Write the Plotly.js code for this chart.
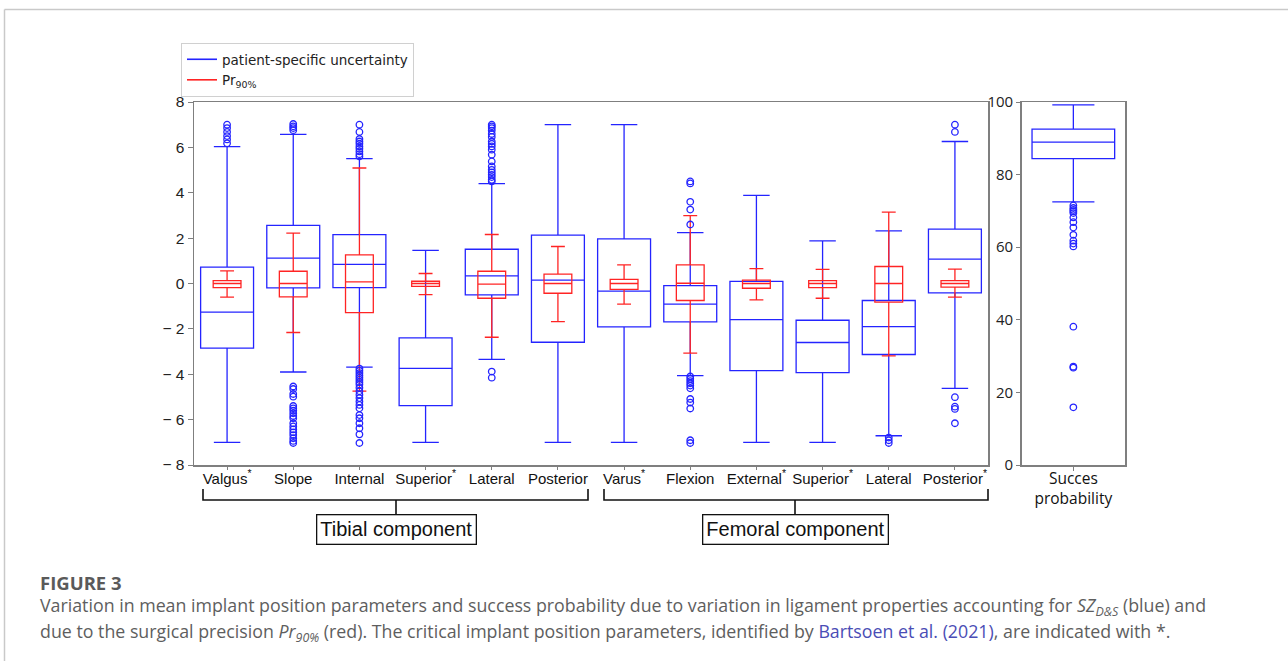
<!DOCTYPE html>
<html>
<head>
<meta charset="utf-8">
<script src="https://cdn.plot.ly/plotly-3.0.1.min.js"></script>
<style>
html,body{margin:0;padding:0;background:#fff;}
#chart{width:1288px;height:661px;}
</style>
</head>
<body>
<div id="chart"></div>
<script>
// ---------------- DATA ----------------
const categories = ["Valgus<sup>*</sup>","Slope","Internal","Superior<sup>*</sup>","Lateral","Posterior",
                    "Varus<sup>*</sup>","Flexion","External<sup>*</sup>","Superior<sup>*</sup>","Lateral","Posterior<sup>*</sup>"];
const positions = [0,1,2,3,4,5,6,7,8,9,10,11];

// patient-specific uncertainty (blue)
const blueQ1     = [-2.85,-0.19,-0.18,-5.38,-0.50,-2.59,-1.91,-1.69,-3.84,-3.93,-3.13,-0.41];
const blueMedian = [-1.26, 1.12, 0.84,-3.74, 0.34, 0.15,-0.34,-0.91,-1.59,-2.60,-1.90, 1.07];
const blueQ3     = [ 0.72, 2.56, 2.15,-2.40, 1.51, 2.13, 1.97,-0.09, 0.09,-1.62,-0.75, 2.40];
const blueLow    = [-7.00,-3.90,-3.69,-7.00,-3.34,-7.00,-7.00,-4.06,-7.00,-7.00,-6.71,-4.62];
const blueHigh   = [ 6.03, 6.57, 5.50, 1.46, 4.40, 7.00, 7.00, 2.24, 3.88, 1.88, 2.32, 6.26];

// surgical precision Pr90% (red)
const redQ1     = [-0.18,-0.59,-1.28,-0.13,-0.65,-0.43,-0.26,-0.75,-0.21,-0.18,-0.82,-0.16];
const redMedian = [ 0.00, 0.00, 0.07, 0.00,-0.03, 0.00, 0.00, 0.01, 0.00, 0.00, 0.00, 0.00];
const redQ3     = [ 0.13, 0.54, 1.26, 0.10, 0.54, 0.41, 0.18, 0.82, 0.15, 0.13, 0.75, 0.13];
const redLow    = [-0.60,-2.16,-4.74,-0.49,-2.37,-1.68,-0.91,-3.07,-0.72,-0.65,-3.19,-0.60];
const redHigh   = [ 0.56, 2.22, 5.09, 0.44, 2.16, 1.63, 0.82, 2.99, 0.66, 0.62, 3.15, 0.63];

// blue outliers, per category index
const outValgus    = [7.0,6.85,6.68,6.5,6.35,6.18];
const outSlope     = [7.03,6.93,6.85,6.76,-4.54,-4.65,-4.87,-4.99,-5.4,-5.5,-5.6,-5.72,-5.84,-5.94,-6.16,-6.3,-6.43,-6.56,-6.68,-6.82,-6.94,-7.03];
const outInternal  = [7.0,6.68,6.37,6.26,6.16,6.04,5.94,5.82,5.7,5.6,-3.75,-3.85,-3.95,-4.05,-4.15,-4.25,-4.35,-4.45,-4.6,-4.75,-4.9,-5.05,-5.2,-5.35,-5.5,-5.8,-5.94,-6.16,-6.38,-6.65,-7.03];
const outLateralT  = [7.0,6.93,6.85,6.74,6.59,6.46,6.26,6.15,6.04,5.9,5.68,5.38,5.16,5.01,4.9,4.79,4.69,4.57,4.5,-3.88,-4.15];
const outFlexion   = [4.5,4.41,3.6,3.26,2.6,-4.1,-4.2,-4.3,-4.4,-4.5,-4.62,-5.09,-5.25,-5.51,-6.91,-7.03];
const outLateralF  = [-6.79,-6.91,-7.03];
const outPosteriorF= [7.0,6.68,-5.01,-5.43,-5.53,-6.16];

// success probability
const succLabel = "Succes<br>probability";
const succQ1 = 84.4, succMedian = 88.97, succQ3 = 92.55, succLow = 72.5, succHigh = 99.2;
const succOutliers = [71.5,70.8,70.3,69.9,69.4,68.2,66.9,65.4,63.4,61.8,61.0,60.2,38.1,27.1,26.8,15.9];

const yTickVals = [-8,-6,-4,-2,0,2,4,6,8];
const yTickText = ["\u2212 8","\u2212 6","\u2212 4","\u2212 2","0","2","4","6","8"];
const y2TickVals = [0,20,40,60,80,100];

// ---------------- BUILD ----------------
const BLUE = "#2424ff", RED = "#ff2424";
const outlierSets = [[0,outValgus],[1,outSlope],[2,outInternal],[4,outLateralT],[7,outFlexion],[10,outLateralF],[11,outPosteriorF]];
const outX = [], outY = [];
outlierSets.forEach(([i,arr]) => arr.forEach(v => { outX.push(positions[i]); outY.push(v); }));

const W = 1288, H = 661;
const px = x => x / W;
const py = y => 1 - y / H;

const traces = [
  {type:"box", x:positions, q1:blueQ1, median:blueMedian, q3:blueQ3, lowerfence:blueLow, upperfence:blueHigh,
   width:0.8, whiskerwidth:0.5, line:{color:BLUE,width:1.3}, fillcolor:"rgba(0,0,0,0)",
   boxpoints:false, showlegend:false, xaxis:"x", yaxis:"y", hoverinfo:"skip"},
  {type:"box", x:positions, q1:redQ1, median:redMedian, q3:redQ3, lowerfence:redLow, upperfence:redHigh,
   width:0.42, whiskerwidth:0.5, line:{color:RED,width:1.3}, fillcolor:"rgba(0,0,0,0)",
   boxpoints:false, showlegend:false, xaxis:"x", yaxis:"y", hoverinfo:"skip"},
  {type:"scatter", mode:"markers", x:outX, y:outY, xaxis:"x", yaxis:"y",
   marker:{symbol:"circle-open", size:6.5, color:BLUE, line:{width:1.3, color:BLUE}}, showlegend:false, hoverinfo:"skip"},
  {type:"box", x:[0], q1:[succQ1], median:[succMedian], q3:[succQ3], lowerfence:[succLow], upperfence:[succHigh],
   width:0.8, whiskerwidth:0.51, line:{color:BLUE,width:1.3}, fillcolor:"rgba(0,0,0,0)",
   boxpoints:false, showlegend:false, xaxis:"x2", yaxis:"y2", hoverinfo:"skip"},
  {type:"scatter", mode:"markers", x:succOutliers.map(() => 0), y:succOutliers, xaxis:"x2", yaxis:"y2",
   marker:{symbol:"circle-open", size:6.5, color:BLUE, line:{width:1.3, color:BLUE}}, showlegend:false, hoverinfo:"skip"},
  {type:"scatter", mode:"lines", x:[null], y:[null], name:"patient-specific uncertainty", line:{color:BLUE,width:1.6}, xaxis:"x", yaxis:"y"},
  {type:"scatter", mode:"lines", x:[null], y:[null], name:"Pr<sub>90%</sub>", line:{color:RED,width:1.6}, xaxis:"x", yaxis:"y"}
];

const axisColor = "#7f7f7f";
const tickFont = {family:"Liberation Sans, Arial, sans-serif", size:15.5, color:"#222"};

const shapes = [];
// card border (top and left)
shapes.push({type:"line", xref:"paper", yref:"paper", x0:px(4.5), x1:px(1288), y0:py(9.5), y1:py(9.5), line:{color:"#c9c9c9", width:1.5}});
shapes.push({type:"line", xref:"paper", yref:"paper", x0:px(4.5), x1:px(4.5), y0:py(9.5), y1:py(661), line:{color:"#c9c9c9", width:1.5}});
// brackets
function bracket(xl, xr, xm) {
  shapes.push({type:"path", xref:"paper", yref:"paper",
    path:`M ${px(xl)} ${py(489)} L ${px(xl)} ${py(500)} L ${px(xr)} ${py(500)} L ${px(xr)} ${py(489)}`,
    line:{color:"#111", width:1.6}});
  shapes.push({type:"line", xref:"paper", yref:"paper", x0:px(xm), x1:px(xm), y0:py(500), y1:py(515), line:{color:"#111", width:1.6}});
}
bracket(203, 588, 396);
bracket(604, 988, 795);

const annFont = {family:"Liberation Sans, Arial, sans-serif", size:20, color:"#111"};
const capFont = {family:"Open Sans, sans-serif", size:17.8, color:"#5e5e5e"};
const annotations = [
  {xref:"paper", yref:"paper", x:px(396), y:py(529), text:"Tibial component", showarrow:false, font:annFont,
   bordercolor:"#111", borderwidth:1.3, borderpad:3, bgcolor:"#fff", xanchor:"center", yanchor:"middle"},
  {xref:"paper", yref:"paper", x:px(795), y:py(529), text:"Femoral component", showarrow:false, font:annFont,
   bordercolor:"#111", borderwidth:1.3, borderpad:3, bgcolor:"#fff", xanchor:"center", yanchor:"middle"},
  {xref:"paper", yref:"paper", x:px(38), y:py(582), text:"<b>FIGURE 3</b>", showarrow:false,
   font:{family:"Open Sans, sans-serif", size:18.5, color:"#5a5a5a"}, xanchor:"left", yanchor:"middle"},
  {xref:"paper", yref:"paper", x:px(38), y:py(606), showarrow:false, font:capFont, xanchor:"left", yanchor:"middle",
   text:"Variation in mean implant position parameters and success probability due to variation in ligament properties accounting for <i>SZ<sub>D&amp;S</sub></i> (blue) and"},
  {xref:"paper", yref:"paper", x:px(38), y:py(632), showarrow:false, font:capFont, xanchor:"left", yanchor:"middle",
   text:"due to the surgical precision <i>Pr<sub>90%</sub></i> (red). The critical implant position parameters, identified by <span style=\"color:#4a4db5\">Bartsoen et al. (2021)</span>, are indicated with *."}
];

const layout = {
  width:W, height:H,
  margin:{l:0, r:0, t:0, b:0},
  paper_bgcolor:"#fff", plot_bgcolor:"#fff",
  boxmode:"overlay",
  showlegend:true,
  legend:{x:px(181), y:py(43), xanchor:"left", yanchor:"top", bordercolor:"#d0d0d0", borderwidth:1, bgcolor:"#fff",
          font:{family:"DejaVu Sans, sans-serif", size:13.5, color:"#222"}, tracegroupgap:0, itemwidth:30},
  xaxis:{domain:[px(194), px(988)], range:[-0.5, 11.5], tickvals:positions, ticktext:categories,
         showline:true, mirror:true, linecolor:axisColor, linewidth:1.5, ticks:"outside", ticklen:3, tickcolor:axisColor,
         ticklabelstandoff:-4,
         showgrid:false, zeroline:false, tickfont:{family:"Liberation Sans, Arial, sans-serif", size:15, color:"#111"}, fixedrange:true},
  yaxis:{domain:[py(465), py(102)], range:[-8, 8], tickvals:yTickVals, ticktext:yTickText,
         showline:true, mirror:true, linecolor:axisColor, linewidth:1.5, ticks:"outside", ticklen:5, tickcolor:axisColor,
         showgrid:false, zeroline:false, tickfont:tickFont},
  xaxis2:{domain:[px(1021.7), px(1125)], range:[-0.5, 0.5], tickvals:[0], ticktext:[succLabel], anchor:"y2",
          showline:true, mirror:true, linecolor:axisColor, linewidth:1.5, ticks:"outside", ticklen:4, tickcolor:axisColor,
          ticklabelstandoff:-5,
          showgrid:false, zeroline:false, tickfont:{family:"Open Sans, sans-serif", size:15.5, color:"#111"}},
  yaxis2:{domain:[py(465), py(102)], range:[0, 100], tickvals:y2TickVals, anchor:"x2",
          showline:true, mirror:true, linecolor:axisColor, linewidth:1.5, ticks:"outside", ticklen:4, tickcolor:axisColor,
          showgrid:false, zeroline:false, tickfont:{family:"Open Sans, sans-serif", size:15, color:"#222"}},
  shapes:shapes,
  annotations:annotations
};

Plotly.newPlot("chart", traces, layout, {displayModeBar:false, staticPlot:true});
</script>
</body>
</html>
